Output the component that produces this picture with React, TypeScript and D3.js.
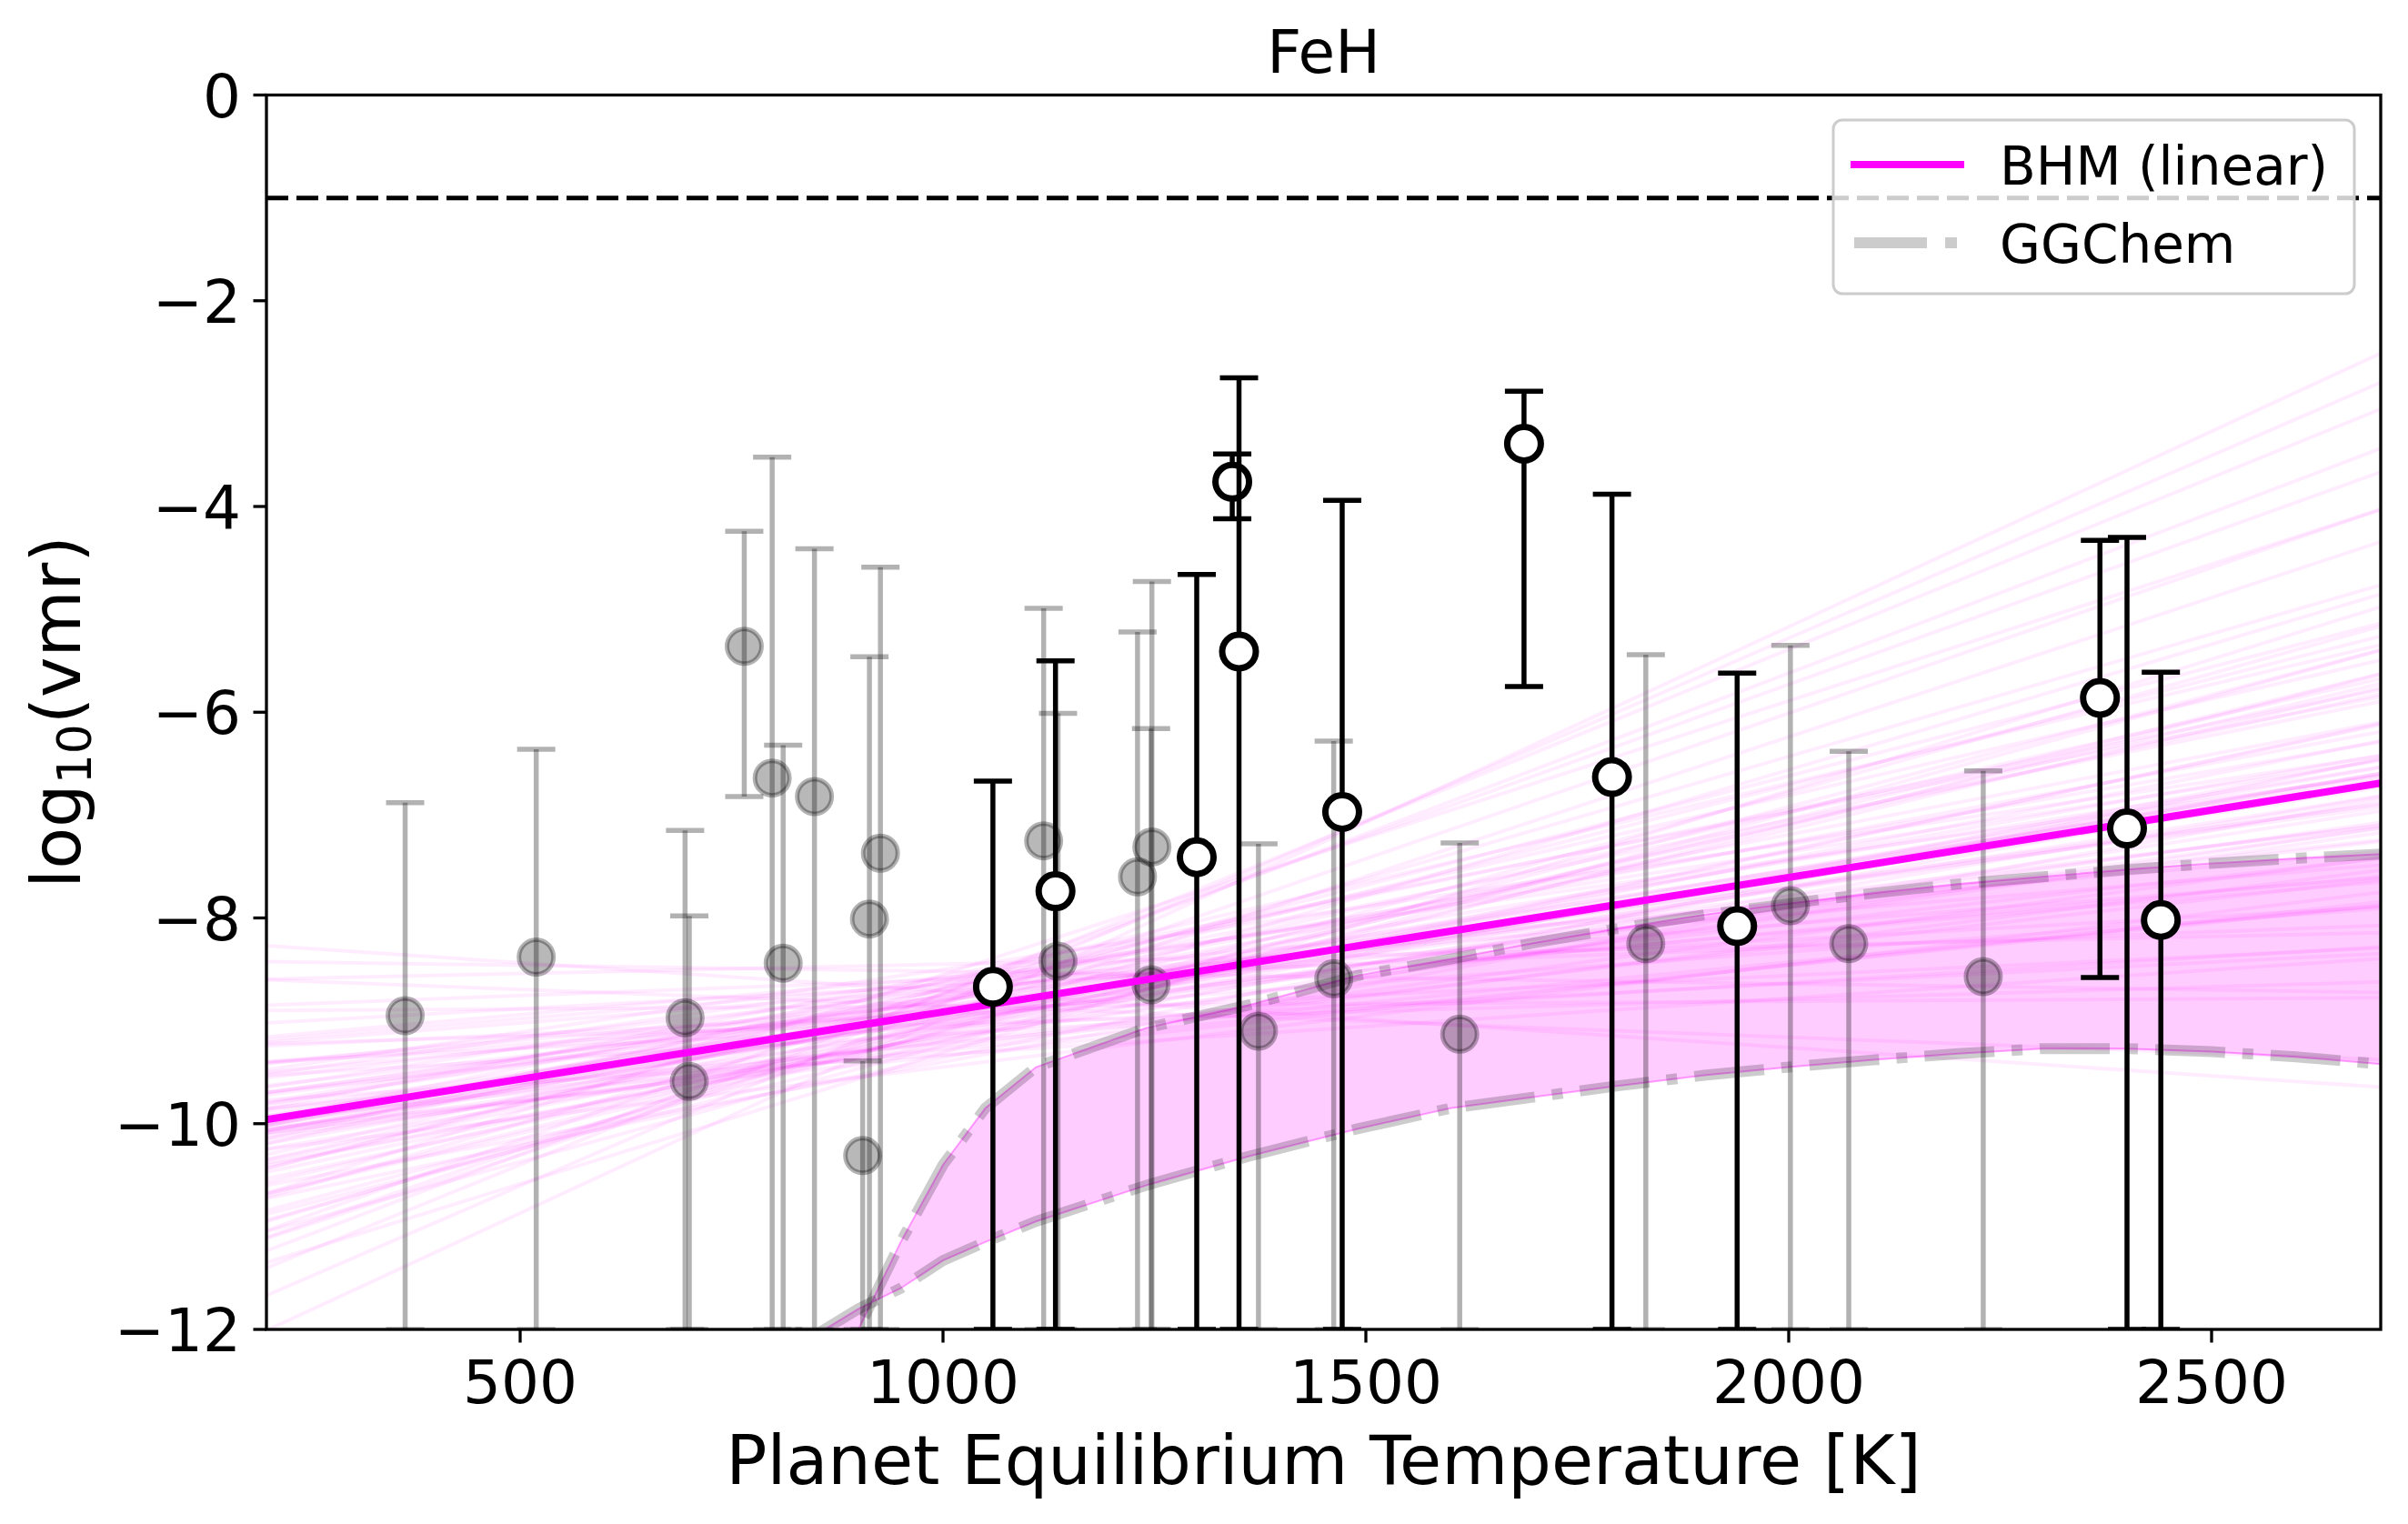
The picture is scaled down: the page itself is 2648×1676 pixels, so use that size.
import React from 'react';
import * as d3 from 'd3';

// plot title / labels
const title = 'FeH';
const xLabel = 'Planet Equilibrium Temperature [K]';
const xTicks = [500, 1000, 1500, 2000, 2500];
const yTicks = [0, -2, -4, -6, -8, -10, -12];

// other planets (grey, semi transparent)
const greyTemp = [364, 519, 695, 700, 765, 798, 811, 848, 905, 913, 926, 1119, 1136, 1230, 1246, 1247, 1373, 1462, 1611, 1831, 2002, 2071, 2230];
const greyVal = [-8.95, -8.38, -8.97, -9.59, -5.36, -6.64, -8.44, -6.82, -10.31, -8.01, -7.37, -7.25, -8.42, -7.6, -8.65, -7.31, -9.1, -8.59, -9.13, -8.25, -7.88, -8.25, -8.57];
const greyHi = [-6.88, -6.36, -7.15, -7.98, -4.24, -3.52, -6.32, -4.41, -9.39, -5.46, -4.59, -4.99, -6.01, -5.22, -6.16, -4.73, -7.28, -6.28, -7.27, -5.44, -5.35, -6.38, -6.57];
const greyLo = [-12, -12, -12, -12, -6.82, -12, -12, -12, -12, -12, -12, -12, -12, -12, -12, -12, -12, -12, -12, -12, -12, -12, -12];

// planets with FeH detections (open markers)
const detTemp = [1059, 1133, 1300, 1342, 1350, 1472, 1687, 1791, 1939, 2368, 2400, 2440];
const detVal = [-8.67, -7.74, -7.41, -3.76, -5.41, -6.97, -3.39, -6.63, -8.08, -5.86, -7.13, -8.02];
const detHi = [-6.67, -5.5, -4.66, -3.49, -2.75, -3.94, -2.88, -3.88, -5.62, -4.33, -4.3, -5.61];
const detLo = [-12, -12, -12, -4.12, -12, -12, -5.75, -12, -12, -8.58, -12, -12];

// BHM (linear) median trend, at both ends of the temperature range
const bhmTemp = [200, 2700];
const bhmVal = [-9.96, -6.69];

// posterior draws of the linear model: value at 1000 K and slope per 1000 K
const fanIntercept = [
  -8.95, -8.72, -9.2, -8.88, -9.05, -8.6, -8.99, -9.31, -8.81, -8.7,
  -9.12, -8.93, -8.52, -9.02, -8.77, -9.18, -8.84, -8.66, -9.4, -8.91,
  -8.58, -9.09, -8.86, -9.27, -8.74, -8.97, -9.14, -8.45, -8.9, -9.06,
  -8.8, -9.33, -8.69, -9.01, -8.83, -9.22, -8.62, -8.96, -8.71, -9.1,
  -9.25, -8.79, -8.94, -8.55, -9.07, -8.87, -9.36, -8.76, -9.0, -8.64,
  -9.16, -8.82, -8.85, -9.04, -8.68, -9.29, -8.92, -8.57, -9.13, -8.78,
  -8.98, -9.45, -8.73, -8.89, -9.19, -8.61, -9.03, -8.8, -9.24, -8.67,
  -8.93, -9.08, -8.5, -8.95, -9.34, -8.75, -8.86, -9.11, -8.63, -9.0,
  -8.81, -9.21, -8.7, -9.06, -8.9, -8.59, -8.97, -9.15, -8.84, -8.74
];
const fanSlope = [
  1.42, 0.87, 2.1, 1.05, 1.63, 0.31, 1.28, 2.55, 1.11, 0.64,
  1.77, 1.36, -0.12, 1.94, 0.98, 1.21, 2.83, 0.45, 1.5, 1.19,
  0.72, 2.31, 1.33, 1.02, 3.12, 0.91, 1.58, 0.18, 1.46, 2.02,
  1.26, 0.55, 1.88, 1.14, 3.55, 0.79, 1.67, 1.39, -0.55, 2.18,
  1.08, 1.53, 0.38, 2.66, 1.24, 0.95, 1.71, 1.31, 2.44, 0.68,
  1.17, 1.85, -0.31, 1.44, 2.95, 0.83, 1.29, 1.6, 0.5, 2.07,
  1.35, 1.0, 3.34, 0.76, 1.49, 1.92, 0.24, 1.12, 2.26, 1.4,
  0.6, 1.74, 1.22, 2.71, 0.88, 1.56, 0.05, 1.97, 1.27, 1.1,
  2.38, 0.93, 1.65, 0.42, 1.81, 1.16, 3.8, 1.37, 0.7, 2.12
];

// GGChem equilibrium chemistry envelope
const ggTemp = [850, 900, 950, 1000, 1050, 1110, 1240, 1360, 1490, 1600, 1700, 1800, 1900, 2000, 2100, 2200, 2300, 2400, 2500, 2600, 2700];
const ggUpper = [-12.9, -12.0, -11.15, -10.4, -9.85, -9.45, -9.07, -8.85, -8.56, -8.4, -8.24, -8.1, -7.97, -7.86, -7.76, -7.67, -7.6, -7.53, -7.47, -7.42, -7.38];
const ggLower = [-12.05, -11.8, -11.6, -11.33, -11.15, -10.95, -10.6, -10.32, -10.05, -9.85, -9.74, -9.63, -9.53, -9.45, -9.38, -9.32, -9.27, -9.27, -9.3, -9.35, -9.42];

const W = 2648;
const H = 1676;
const L = 293, R = 2618, T = 104.5, B = 1462;
const FONT = 'DejaVu Sans';

const fmt = (v) => (v < 0 ? '\u2212' + Math.abs(v) : String(v));

export default function App() {
  const x = d3.scaleLinear().domain([200, 2700]).range([L, R]);
  const y = d3.scaleLinear().domain([-12, 0]).range([B, T]);

  const gg = ggTemp.map((t, i) => ({ t, hi: ggUpper[i], lo: ggLower[i] }));
  const area = d3.area().x((d) => x(d.t)).y0((d) => y(d.lo)).y1((d) => y(d.hi));
  const upLine = d3.line().x((d) => x(d.t)).y((d) => y(d.hi));
  const loLine = d3.line().x((d) => x(d.t)).y((d) => y(d.lo));
  const bhm = d3.line().x((d) => x(d[0])).y((d) => y(d[1]));

  const fanAt = (i, t) => fanIntercept[i] + (fanSlope[i] * (t - 1000)) / 1000;
  const capW = 21;

  return (
    <svg width={W} height={H} style={{ position: 'absolute', left: 0, top: 0, background: '#fff' }} fontFamily={FONT}>
      <defs>
        <clipPath id="plot">
          <rect x={L} y={T} width={R - L} height={B - T} />
        </clipPath>
      </defs>
      <rect x={0} y={0} width={W} height={H} fill="#fff" />

      <g clipPath="url(#plot)">
        {/* posterior samples */}
        {fanIntercept.map((c, i) => (
          <line key={'f' + i} x1={x(200)} y1={y(fanAt(i, 200))} x2={x(2700)} y2={y(fanAt(i, 2700))}
            stroke="#ff00ff" strokeWidth={4} strokeOpacity={0.07} />
        ))}

        {/* GGChem envelope */}
        <path d={area(gg)} fill="#ff00ff" fillOpacity={0.2} stroke="#ff00ff" strokeOpacity={0.35} strokeWidth={2} />
        <path d={upLine(gg)} fill="none" stroke="#000" strokeOpacity={0.2} strokeWidth={12} strokeDasharray="77 19 12 19" />
        <path d={loLine(gg)} fill="none" stroke="#000" strokeOpacity={0.2} strokeWidth={12} strokeDasharray="77 19 12 19" />

        {/* reference level */}
        <line x1={L} x2={R} y1={y(-1)} y2={y(-1)} stroke="#000" strokeWidth={5} strokeDasharray="24 9" />

        {/* other planets */}
        {greyTemp.map((t, i) => (
          <g key={'g' + i} stroke="#000" strokeOpacity={0.3} strokeWidth={5.5}>
            <line x1={x(t)} x2={x(t)} y1={y(greyHi[i])} y2={y(greyLo[i])} />
            <line x1={x(t) - capW} x2={x(t) + capW} y1={y(greyHi[i])} y2={y(greyHi[i])} />
            <line x1={x(t) - capW} x2={x(t) + capW} y1={y(greyLo[i])} y2={y(greyLo[i])} />
            <circle cx={x(t)} cy={y(greyVal[i])} r={19} fill="#000" fillOpacity={0.28} strokeWidth={5} />
          </g>
        ))}

        {/* BHM median */}
        <path d={bhm(bhmTemp.map((t, i) => [t, bhmVal[i]]))} fill="none" stroke="#ff00ff" strokeWidth={8} />

        {/* detections */}
        {detTemp.map((t, i) => (
          <g key={'d' + i} stroke="#000" strokeWidth={5.5}>
            <line x1={x(t)} x2={x(t)} y1={y(detHi[i])} y2={y(detLo[i])} />
            <line x1={x(t) - capW} x2={x(t) + capW} y1={y(detHi[i])} y2={y(detHi[i])} />
            <line x1={x(t) - capW} x2={x(t) + capW} y1={y(detLo[i])} y2={y(detLo[i])} />
            <circle cx={x(t)} cy={y(detVal[i])} r={18.5} fill="#fff" strokeWidth={7} />
          </g>
        ))}
      </g>

      {/* axes frame */}
      <rect x={L} y={T} width={R - L} height={B - T} fill="none" stroke="#000" strokeWidth={3.3} />

      {xTicks.map((t) => (
        <g key={'xt' + t}>
          <line x1={x(t)} x2={x(t)} y1={B} y2={B + 14.5} stroke="#000" strokeWidth={3.3} />
          <text x={x(t)} y={1543} fontSize={66} textAnchor="middle">{t}</text>
        </g>
      ))}
      {yTicks.map((v) => (
        <g key={'yt' + v}>
          <line x1={L - 14.5} x2={L} y1={y(v)} y2={y(v)} stroke="#000" strokeWidth={3.3} />
          <text x={265} y={y(v) + 24} fontSize={66} textAnchor="end">{fmt(v)}</text>
        </g>
      ))}

      <text x={(L + R) / 2} y={1632} fontSize={75} textAnchor="middle">{xLabel}</text>
      <text transform="translate(88,783) rotate(-90)" fontSize={75} textAnchor="middle">
        log<tspan fontSize={52} dy={12}>10</tspan><tspan dy={-12}>(vmr)</tspan>
      </text>
      <text x={(L + R) / 2} y={80} fontSize={66} textAnchor="middle">{title}</text>

      {/* legend */}
      <g>
        <rect x={2016} y={132} width={573} height={191} rx={10} ry={10} fill="#fff" fillOpacity={0.8} stroke="#cccccc" strokeWidth={3} />
        <line x1={2035} x2={2160} y1={181} y2={181} stroke="#ff00ff" strokeWidth={8} />
        <text x={2199} y={203} fontSize={58}>BHM (linear)</text>
        <line x1={2039} x2={2160} y1={267} y2={267} stroke="#000" strokeOpacity={0.2} strokeWidth={12} strokeDasharray="80 20 13 19" />
        <text x={2199} y={289} fontSize={58}>GGChem</text>
      </g>
    </svg>
  );
}
